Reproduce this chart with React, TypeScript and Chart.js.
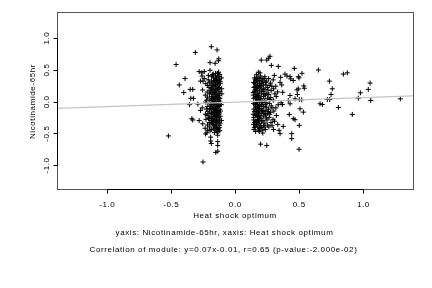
import React, { useEffect, useRef } from "react";
import { Chart, registerables } from "chart.js";

Chart.register(...registerables);

// ---- data ----
const xTicks = [-1.0, -0.5, 0.0, 0.5, 1.0];
const yTicks = [-1.0, -0.5, 0.0, 0.5, 1.0];
const xTickLabels = ["-1.0", "-0.5", "0.0", "0.5", "1.0"];
const yTickLabels = ["-1.0", "-0.5", "0.0", "0.5", "1.0"];
const axisRange = [-1.39, 1.39];
const regression = { slope: 0.07, intercept: -0.01 };

const xTitle = "Heat shock optimum";
const yTitle = "Nicotinamide-65hr";
const subtitle1 = "yaxis: Nicotinamide-65hr, xaxis: Heat shock optimum";
const subtitle2 = "Correlation of module: y=0.07x-0.01, r=0.65 (p-value:-2.000e-02)";

const leftSpread: [number, number][] = [
  [-0.46, 0.58], [-0.39, 0.36], [-0.435, 0.26], [-0.35, 0.19], [-0.33, 0.19], [-0.4, 0.14],
  [-0.345, 0.05], [-0.325, 0.05], [-0.355, -0.05], [-0.33, -0.29], [-0.337, -0.27], [-0.52, -0.54],
  [-0.31, 0.77], [-0.27, 0.32], [-0.25, 0.32], [-0.24, 0.36], [-0.28, 0.47], [-0.26, 0.45],
  [-0.24, 0.47], [-0.29, -0.04], [-0.27, -0.14], [-0.28, -0.3], [-0.23, -0.51], [-0.25, -0.95],
  [-0.185, 0.86], [-0.14, 0.81], [-0.195, 0.61], [-0.155, 0.6], [-0.13, 0.64], [-0.127, 0.67],
  [-0.195, 0.49], [-0.17, 0.43], [-0.19, -0.56], [-0.19, -0.62], [-0.185, -0.66], [-0.135, -0.53],
  [-0.135, -0.63], [-0.135, -0.69], [-0.135, -0.78], [-0.15, -0.8], [-0.22, -0.49],
];

const leftCore: [number, number][] = [
  [-0.118, 0.42], [-0.122, 0.35], [-0.115, 0.28], [-0.121, 0.22], [-0.117, 0.16], [-0.124, 0.1],
  [-0.119, 0.05], [-0.116, -0.01], [-0.123, -0.06], [-0.118, -0.12], [-0.121, -0.18], [-0.115, -0.23],
  [-0.12, -0.29], [-0.117, -0.35], [-0.123, -0.41], [-0.119, -0.46], [-0.114, 0.31], [-0.125, 0.02],
  [-0.113, -0.15], [-0.121, -0.38],
  [-0.138, 0.44], [-0.142, 0.38], [-0.136, 0.3], [-0.141, 0.24], [-0.139, 0.19], [-0.144, 0.13],
  [-0.137, 0.07], [-0.14, 0.03], [-0.143, -0.03], [-0.138, -0.09], [-0.141, -0.14], [-0.136, -0.2],
  [-0.142, -0.26], [-0.139, -0.32], [-0.144, -0.37], [-0.137, -0.43], [-0.14, -0.48], [-0.145, 0.34],
  [-0.135, 0.09], [-0.143, -0.24],
  [-0.153, 0.4], [-0.158, 0.33], [-0.152, 0.27], [-0.156, 0.21], [-0.154, 0.15], [-0.159, 0.11],
  [-0.151, 0.04], [-0.157, -0.02], [-0.155, -0.07], [-0.152, -0.11], [-0.158, -0.17], [-0.154, -0.22],
  [-0.156, -0.28], [-0.153, -0.33], [-0.157, -0.4], [-0.155, -0.45], [-0.16, 0.0], [-0.15, 0.18],
  [-0.168, 0.37], [-0.172, 0.29], [-0.17, 0.23], [-0.166, 0.17], [-0.173, 0.12], [-0.169, 0.06],
  [-0.171, 0.01], [-0.167, -0.04], [-0.174, -0.1], [-0.17, -0.16], [-0.168, -0.21], [-0.172, -0.27],
  [-0.169, -0.31], [-0.171, -0.36], [-0.167, -0.42], [-0.173, 0.25], [-0.17, -0.13],
  [-0.183, 0.32], [-0.187, 0.26], [-0.184, 0.2], [-0.188, 0.14], [-0.182, 0.08], [-0.186, 0.02],
  [-0.185, -0.05], [-0.189, -0.11], [-0.183, -0.17], [-0.187, -0.24], [-0.184, -0.3], [-0.188, -0.35],
  [-0.185, -0.44], [-0.182, 0.39],
  [-0.198, 0.3], [-0.203, 0.22], [-0.2, 0.12], [-0.196, 0.04], [-0.202, -0.03], [-0.199, -0.12],
  [-0.204, -0.19], [-0.197, -0.26], [-0.201, -0.33], [-0.2, -0.4],
  [-0.213, 0.25], [-0.217, 0.15], [-0.214, 0.07], [-0.216, -0.08], [-0.212, -0.16], [-0.218, -0.22],
  [-0.215, -0.37], [-0.213, -0.45],
  [-0.228, 0.28], [-0.232, 0.1], [-0.229, -0.01], [-0.231, -0.2], [-0.227, -0.28], [-0.233, -0.42],
  [-0.253, 0.18], [-0.256, -0.1], [-0.252, -0.35], [-0.257, 0.4],
  [-0.104, 0.2], [-0.107, -0.05], [-0.103, 0.12], [-0.106, -0.3], [-0.105, 0.37],
];

const leftCoreExtra: [number, number][] = [
  [-0.128, 0.39], [-0.163, 0.31], [-0.147, 0.26], [-0.131, 0.2], [-0.178, 0.18], [-0.126, 0.13],
  [-0.149, 0.08], [-0.162, 0.04], [-0.133, 0.0], [-0.176, -0.02], [-0.129, -0.08], [-0.146, -0.05],
  [-0.164, -0.09], [-0.131, -0.16], [-0.149, -0.19], [-0.179, -0.2], [-0.127, -0.25], [-0.161, -0.24],
  [-0.146, -0.3], [-0.132, -0.33], [-0.177, -0.33], [-0.128, -0.43], [-0.162, -0.38], [-0.147, -0.41],
  [-0.133, 0.27], [-0.165, 0.14], [-0.149, 0.35], [-0.126, 0.06], [-0.178, 0.05], [-0.192, -0.07],
  [-0.131, 0.33], [-0.147, -0.13], [-0.163, -0.18], [-0.126, -0.2], [-0.18, -0.27], [-0.193, 0.17],
  [-0.147, 0.12], [-0.132, -0.47], [-0.161, -0.49], [-0.128, 0.46], [-0.153, 0.44], [-0.176, 0.42],
  [-0.209, 0.34], [-0.222, 0.02], [-0.207, -0.27], [-0.224, -0.12], [-0.208, 0.41], [-0.195, -0.46],
];

const rightCore: [number, number][] = [
  [0.145, 0.3], [0.148, 0.22], [0.143, 0.14], [0.146, 0.05], [0.144, -0.03], [0.147, -0.12],
  [0.142, -0.2], [0.146, -0.29], [0.145, -0.36], [0.148, -0.44], [0.143, 0.1], [0.147, -0.25],
  [0.158, 0.35], [0.162, 0.27], [0.159, 0.19], [0.163, 0.11], [0.157, 0.06], [0.161, 0.0],
  [0.16, -0.07], [0.164, -0.15], [0.158, -0.22], [0.162, -0.31], [0.159, -0.39], [0.161, -0.47],
  [0.156, 0.24], [0.163, -0.1],
  [0.173, 0.38], [0.177, 0.31], [0.175, 0.25], [0.172, 0.17], [0.178, 0.09], [0.174, 0.03],
  [0.176, -0.04], [0.173, -0.09], [0.177, -0.17], [0.175, -0.24], [0.172, -0.33], [0.178, -0.4],
  [0.174, -0.28], [0.176, 0.13],
  [0.188, 0.33], [0.192, 0.28], [0.189, 0.21], [0.193, 0.15], [0.187, 0.07], [0.191, 0.01],
  [0.19, -0.06], [0.194, -0.13], [0.188, -0.19], [0.192, -0.27], [0.189, -0.35], [0.191, -0.42],
  [0.19, -0.47], [0.187, 0.36],
  [0.203, 0.37], [0.207, 0.29], [0.204, 0.23], [0.208, 0.12], [0.202, 0.04], [0.206, -0.02],
  [0.205, -0.11], [0.209, -0.18], [0.203, -0.26], [0.207, -0.32], [0.204, -0.41], [0.206, 0.18],
  [0.218, 0.34], [0.222, 0.26], [0.219, 0.16], [0.223, 0.08], [0.217, -0.01], [0.221, -0.08],
  [0.22, -0.16], [0.224, -0.23], [0.218, -0.3], [0.222, -0.38], [0.217, -0.495], [0.221, 0.2],
  [0.233, 0.39], [0.237, 0.3], [0.234, 0.19], [0.238, 0.1], [0.232, 0.02], [0.236, -0.05],
  [0.235, -0.14], [0.239, -0.21], [0.233, -0.34], [0.237, -0.44],
  [0.248, 0.32], [0.252, 0.22], [0.249, 0.13], [0.253, 0.05], [0.247, -0.09], [0.251, -0.19],
  [0.25, -0.29], [0.254, -0.37],
  [0.263, 0.36], [0.267, 0.25], [0.264, 0.11], [0.268, -0.03], [0.262, -0.12], [0.266, -0.25],
  [0.265, -0.4],
  [0.278, 0.29], [0.282, 0.17], [0.279, 0.06], [0.283, -0.07], [0.277, -0.17], [0.281, -0.33],
  [0.298, 0.34], [0.302, 0.2], [0.299, 0.02], [0.303, -0.15], [0.297, -0.28], [0.301, -0.44],
  [0.318, 0.24], [0.322, 0.08], [0.319, -0.1], [0.323, -0.22],
  [0.333, 0.15], [0.337, -0.05], [0.334, -0.36],
];

const rightCoreExtra: [number, number][] = [
  [0.152, 0.29], [0.169, 0.21], [0.183, 0.1], [0.152, 0.16], [0.168, -0.01], [0.184, -0.08],
  [0.151, -0.16], [0.169, -0.2], [0.182, -0.24], [0.153, -0.33], [0.167, -0.36], [0.184, -0.3],
  [0.152, 0.37], [0.168, 0.33], [0.182, 0.23], [0.196, 0.05], [0.211, -0.05], [0.197, -0.22],
  [0.212, -0.14], [0.227, 0.12], [0.197, 0.25], [0.213, 0.31], [0.227, -0.19], [0.198, -0.38],
  [0.213, -0.45], [0.151, -0.41], [0.168, 0.08], [0.183, 0.04], [0.156, -0.05], [0.171, -0.12],
  [0.185, -0.15], [0.242, 0.26], [0.243, -0.02], [0.258, 0.18], [0.257, -0.16], [0.244, -0.26],
  [0.272, 0.03], [0.272, -0.2], [0.288, 0.24], [0.289, -0.1], [0.29, -0.38], [0.311, 0.12],
  [0.309, -0.31], [0.198, 0.4], [0.228, 0.36], [0.167, 0.42], [0.183, -0.45], [0.228, -0.4],
];

const rightSpread: [number, number][] = [
  [0.205, 0.65], [0.248, 0.65], [0.263, 0.68], [0.273, 0.71], [0.284, 0.567], [0.338, 0.55],
  [0.182, 0.46], [0.195, 0.45], [0.463, 0.52], [0.651, 0.495], [0.846, 0.43], [0.877, 0.45],
  [0.737, 0.32], [1.055, 0.29], [0.76, 0.2], [0.75, 0.11], [0.979, 0.136], [1.041, 0.19],
  [0.664, -0.036], [0.682, -0.047], [0.721, 0.031], [0.74, 0.031], [0.963, 0.052], [1.06, 0.016],
  [1.291, 0.042], [0.807, -0.094], [0.916, -0.203], [0.537, 0.245], [0.541, 0.208], [0.495, 0.198],
  [0.523, 0.442], [0.495, 0.39], [0.5, 0.37], [0.43, 0.39], [0.435, 0.355], [0.406, 0.4],
  [0.39, 0.43], [0.484, 0.183], [0.487, 0.11], [0.469, 0.042], [0.502, 0.031], [0.521, 0.027],
  [0.416, 0.016], [0.43, -0.036], [0.508, -0.114], [0.534, -0.167], [0.424, -0.203], [0.455, -0.27],
  [0.469, -0.286], [0.502, -0.375], [0.377, -0.39], [0.344, -0.453], [0.352, -0.505], [0.443, -0.505],
  [0.443, -0.583], [0.5, -0.75], [0.352, 0.3], [0.365, 0.26], [0.373, 0.145], [0.43, 0.094],
  [0.36, -0.02], [0.37, -0.047], [0.307, 0.41], [0.357, 0.38], [0.2, -0.67], [0.248, -0.69],
  [0.455, 0.33],
];

const FONT = '8px "Liberation Sans", Arial, sans-serif';

const rAxesPlugin = {
  id: "rAxes",
  afterDraw(chart: any) {
    const { ctx, chartArea: a, scales } = chart;
    const xs = scales.x;
    const ys = scales.y;
    ctx.save();
    // plot box
    ctx.strokeStyle = "#555";
    ctx.lineWidth = 1;
    ctx.strokeRect(a.left + 0.5, a.top - 0.5, a.right - a.left, a.bottom - a.top);
    ctx.strokeStyle = "#000";
    // x axis
    const bx = a.bottom - 0.5;
    const xFirst = Math.round(xs.getPixelForValue(xTicks[0])) + 0.5;
    const xLast = Math.round(xs.getPixelForValue(xTicks[xTicks.length - 1])) + 0.5;
    ctx.beginPath();
    ctx.moveTo(xFirst, bx);
    ctx.lineTo(xLast, bx);
    xTicks.forEach((v) => {
      const px = Math.round(xs.getPixelForValue(v)) + 0.5;
      ctx.moveTo(px, bx);
      ctx.lineTo(px, bx + 4);
    });
    ctx.stroke();
    // y axis
    const lx = a.left + 0.5;
    const yFirst = Math.round(ys.getPixelForValue(yTicks[0])) + 0.5;
    const yLast = Math.round(ys.getPixelForValue(yTicks[yTicks.length - 1])) + 0.5;
    ctx.beginPath();
    ctx.moveTo(lx, yFirst);
    ctx.lineTo(lx, yLast);
    yTicks.forEach((v) => {
      const py = Math.round(ys.getPixelForValue(v)) + 0.5;
      ctx.moveTo(lx, py);
      ctx.lineTo(lx - 4, py);
    });
    ctx.stroke();

    ctx.fillStyle = "#000";
    ctx.font = FONT;
    (ctx as any).letterSpacing = "0.6px";
    ctx.textAlign = "center";
    ctx.textBaseline = "middle";
    xTicks.forEach((v, i) => {
      ctx.fillText(xTickLabels[i], xs.getPixelForValue(v) + 0.3, a.bottom + 14.5);
    });
    yTicks.forEach((v, i) => {
      ctx.save();
      ctx.translate(a.left - 10, ys.getPixelForValue(v) + 0.3);
      ctx.rotate(-Math.PI / 2);
      ctx.fillText(yTickLabels[i], 0, 0);
      ctx.restore();
    });
    const cx = (a.left + a.right) / 2;
    ctx.fillText(xTitle, cx, a.bottom + 25.5);
    ctx.fillText(subtitle1, cx - 10.5, a.bottom + 43);
    ctx.fillText(subtitle2, cx - 11.5, a.bottom + 60);
    ctx.save();
    ctx.translate(33, (a.top + a.bottom) / 2);
    ctx.rotate(-Math.PI / 2);
    ctx.fillText(yTitle, 0, 0);
    ctx.restore();
    ctx.restore();
  },
};

const toPoints = (arr: [number, number][]) => arr.map(([x, y]) => ({ x, y }));

export default function App() {
  const ref = useRef<HTMLCanvasElement | null>(null);
  useEffect(() => {
    if (!ref.current) return;
    const lineData = axisRange.map((x) => ({ x, y: regression.slope * x + regression.intercept }));
    const pointStyleOpts = {
      pointStyle: "cross" as const,
      pointRadius: 2.5,
      pointBorderColor: "#000",
      pointBorderWidth: 1,
      showLine: false,
    };
    const chart = new Chart(ref.current, {
      type: "scatter",
      data: {
        datasets: [
          {
            type: "line",
            label: "fit",
            data: lineData,
            borderColor: "#c4c4c4",
            borderWidth: 1.3,
            pointRadius: 0,
            fill: false,
          } as any,
          { label: "leftCore", data: toPoints(leftCore), ...pointStyleOpts },
          { label: "leftCoreExtra", data: toPoints(leftCoreExtra), ...pointStyleOpts },
          { label: "leftSpread", data: toPoints(leftSpread), ...pointStyleOpts },
          { label: "rightCore", data: toPoints(rightCore), ...pointStyleOpts },
          { label: "rightCoreExtra", data: toPoints(rightCoreExtra), ...pointStyleOpts },
          { label: "rightSpread", data: toPoints(rightSpread), ...pointStyleOpts },
        ],
      },
      options: {
        animation: false,
        responsive: false,
        events: [],
        layout: { padding: { left: 57, right: 19, top: 13, bottom: 98 } },
        plugins: { legend: { display: false }, tooltip: { enabled: false } },
        scales: {
          x: { type: "linear", min: axisRange[0], max: axisRange[1], display: false },
          y: { type: "linear", min: axisRange[0], max: axisRange[1], display: false },
        },
      },
      plugins: [rAxesPlugin],
    });
    return () => chart.destroy();
  }, []);
  return (
    <div style={{ position: "absolute", left: 0, top: 0, width: 432, height: 288, background: "#fff" }}>
      <canvas ref={ref} width={432} height={288} style={{ display: "block" }} />
    </div>
  );
}
